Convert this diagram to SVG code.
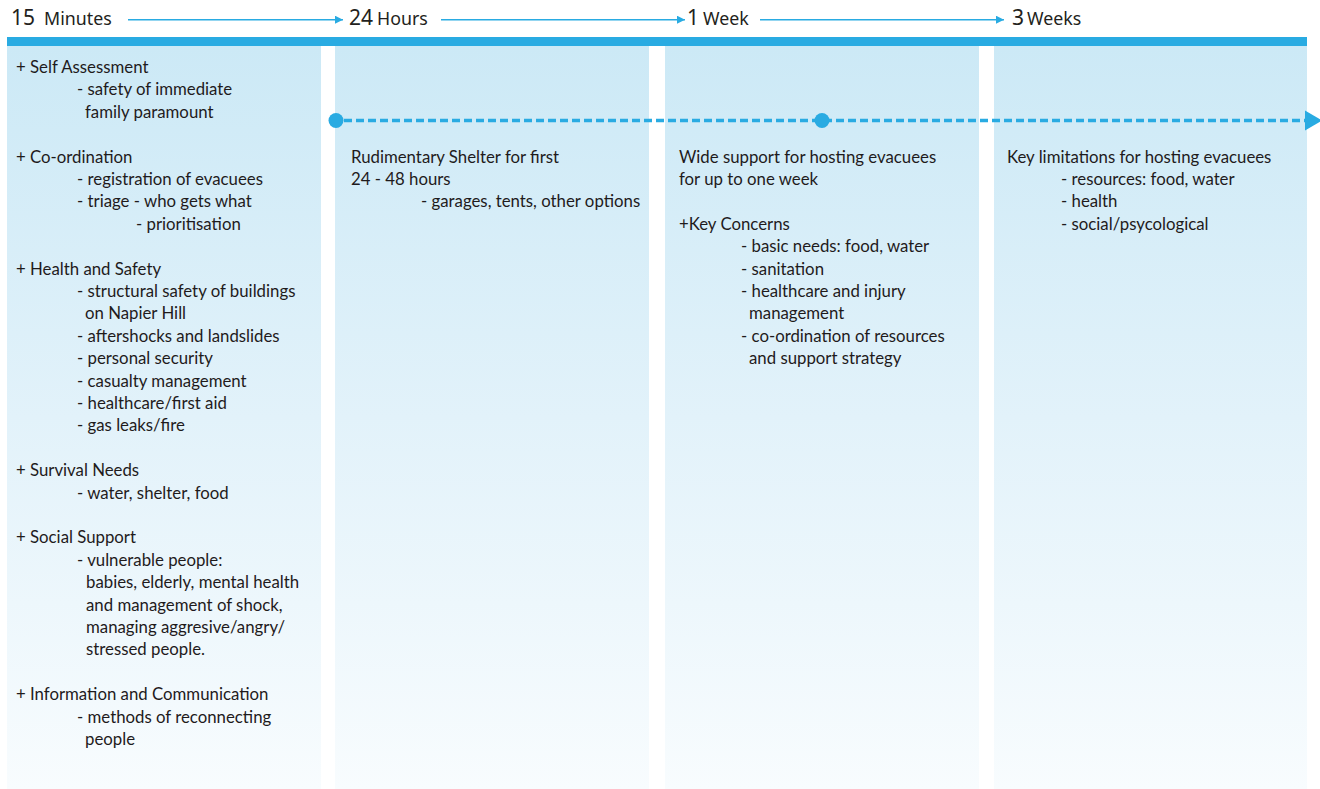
<svg xmlns="http://www.w3.org/2000/svg" width="1320" height="789" viewBox="0 0 1320 789">
<style>
.hd{font-family:"Noto Sans","Open Sans",sans-serif;fill:#231f20}
.num{font-size:21px}
.lbl{font-size:17.8px}
.t{font-family:Lato,"Open Sans",sans-serif;font-size:16.8px;fill:#1f1b1c}
.col{fill:url(#g)}
.tl{stroke:#29abe2;stroke-width:1.4;fill:none}
</style>
<defs>
<linearGradient id="g" x1="0" y1="0" x2="0" y2="1">
<stop offset="0" stop-color="#cce9f6"/>
<stop offset="0.5" stop-color="#e2f2fa"/>
<stop offset="1" stop-color="#f8fcfe"/>
</linearGradient>
<marker id="ah" viewBox="0 0 8 8" refX="8" refY="4" markerWidth="8" markerHeight="8" markerUnits="userSpaceOnUse" orient="auto">
<path d="M0,0 L8,4 L0,8 Z" fill="#29abe2"/>
</marker>
</defs>
<rect x="0" y="0" width="1320" height="789" fill="#ffffff"/>

<g id="columns">
<rect class="col" x="7" y="46" width="314" height="743"/>
<rect class="col" x="335" y="46" width="314" height="743"/>
<rect class="col" x="665" y="46" width="314" height="743"/>
<rect class="col" x="994" y="46" width="313" height="743"/>
<rect x="7" y="37" width="1300" height="9" fill="#29abe2"/>
</g>

<g id="header">
<text class="hd" x="11" y="25"><tspan class="num">15</tspan><tspan class="lbl" dx="9">Minutes</tspan></text>
<text class="hd" x="349" y="25"><tspan class="num">24</tspan><tspan class="lbl" dx="4">Hours</tspan></text>
<text class="hd" x="687" y="25"><tspan class="num">1</tspan><tspan class="lbl" dx="4">Week</tspan></text>
<text class="hd" x="1012" y="25"><tspan class="num">3</tspan><tspan class="lbl" dx="3">Weeks</tspan></text>
</g>

<g id="connectors">
<line class="tl" x1="128" y1="19.7" x2="343" y2="19.7" marker-end="url(#ah)"/>
<line class="tl" x1="441" y1="19.7" x2="685" y2="19.7" marker-end="url(#ah)"/>
<line class="tl" x1="760" y1="19.7" x2="1004" y2="19.7" marker-end="url(#ah)"/>
<line x1="344" y1="120.5" x2="1306" y2="120.5" stroke="#29abe2" stroke-width="3.5" stroke-dasharray="8 4"/>
<circle cx="336" cy="120.5" r="7.5" fill="#29abe2"/>
<circle cx="822" cy="120.5" r="7.5" fill="#29abe2"/>
<path d="M1305,110.5 L1322,120.5 L1305,130.5 Z" fill="#29abe2"/>
</g>

<g id="col-15-minutes" class="t">
<text x="16" y="73">+ Self Assessment</text>
<text x="77" y="95.4">- safety of immediate</text>
<text x="85" y="117.8">family paramount</text>
<text x="16" y="162.6">+ Co-ordination</text>
<text x="77" y="185">- registration of evacuees</text>
<text x="77" y="207.4">- triage - who gets what</text>
<text x="136" y="229.8">- prioritisation</text>
<text x="16" y="274.6">+ Health and Safety</text>
<text x="77" y="297">- structural safety of buildings</text>
<text x="85" y="319.4">on Napier Hill</text>
<text x="77" y="341.8">- aftershocks and landslides</text>
<text x="77" y="364.2">- personal security</text>
<text x="77" y="386.6">- casualty management</text>
<text x="77" y="409">- healthcare/first aid</text>
<text x="77" y="431.4">- gas leaks/fire</text>
<text x="16" y="476.2">+ Survival Needs</text>
<text x="77" y="498.6">- water, shelter, food</text>
<text x="16" y="543.4">+ Social Support</text>
<text x="77" y="565.8">- vulnerable people:</text>
<text x="86" y="588.2">babies, elderly, mental health</text>
<text x="86" y="610.6">and management of shock,</text>
<text x="86" y="633">managing aggresive/angry/</text>
<text x="86" y="655.4">stressed people.</text>
<text x="16" y="700.2">+ Information and Communication</text>
<text x="77" y="722.6">- methods of reconnecting</text>
<text x="85" y="745">people</text>
</g>

<g id="col-24-hours" class="t">
<text x="351" y="162.6">Rudimentary Shelter for first</text>
<text x="351" y="185">24 - 48 hours</text>
<text x="421" y="207.4">- garages, tents, other options</text>
</g>

<g id="col-1-week" class="t">
<text x="679" y="162.6">Wide support for hosting evacuees</text>
<text x="679" y="185">for up to one week</text>
<text x="679" y="229.8">+Key Concerns</text>
<text x="741" y="252.2">- basic needs: food, water</text>
<text x="741" y="274.6">- sanitation</text>
<text x="741" y="297">- healthcare and injury</text>
<text x="749" y="319.4">management</text>
<text x="741" y="341.8">- co-ordination of resources</text>
<text x="749" y="364.2">and support strategy</text>
</g>

<g id="col-3-weeks" class="t">
<text x="1007" y="162.6">Key limitations for hosting evacuees</text>
<text x="1061" y="185">- resources: food, water</text>
<text x="1061" y="207.4">- health</text>
<text x="1061" y="229.8">- social/psycological</text>
</g>
</svg>
